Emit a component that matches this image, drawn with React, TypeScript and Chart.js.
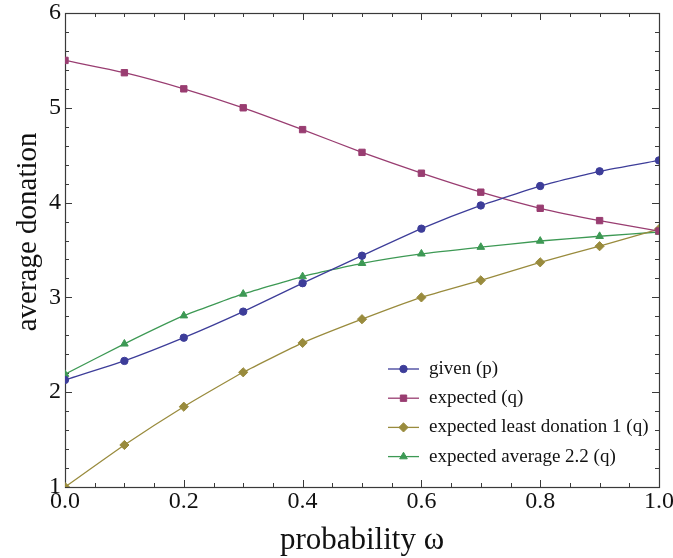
import React, { useEffect, useRef } from "react";
import { Chart, registerables } from "chart.js";
import { drawPoint } from "chart.js/helpers";

Chart.register(...registerables);

const omega = [0, 0.1, 0.2, 0.3, 0.4, 0.5, 0.6, 0.7, 0.8, 0.9, 1.0];
const givenP = [2.13, 2.33, 2.575, 2.85, 3.15, 3.44, 3.725, 3.97, 4.175, 4.33, 4.445];
const expectedQ = [5.5, 5.37, 5.2, 5.0, 4.77, 4.53, 4.31, 4.11, 3.94, 3.81, 3.7];
const leastDonation1 = [1.0, 1.443, 1.847, 2.21, 2.52, 2.77, 3.0, 3.18, 3.37, 3.54, 3.72];
const average22 = [2.19, 2.51, 2.807, 3.036, 3.22, 3.36, 3.46, 3.53, 3.595, 3.645, 3.69];

const seriesLabels = [
  "given (p)",
  "expected (q)",
  "expected least donation 1 (q)",
  "expected average 2.2 (q)",
];
const xTicks = [0, 0.2, 0.4, 0.6, 0.8, 1.0];
const yTicks = [1, 2, 3, 4, 5, 6];

const COLORS = ["#3d3d99", "#993d71", "#998b3d", "#3d9954"];
const STYLES = ["circle", "rect", "rectRot", "triangle"];
const RADII = [3.7, 4.5, 4.6, 4.4];
const FONT = "'Liberation Serif', 'DejaVu Serif', serif";

const framePlugin = {
  id: "framePlugin",
  beforeDatasetsDraw(chart: any) {
    const { ctx, chartArea } = chart;
    const { left, right, top, bottom } = chartArea;
    const xs = chart.scales.x;
    const ys = chart.scales.y;
    ctx.save();
    ctx.strokeStyle = "#3a3a3a";
    ctx.lineWidth = 1;
    ctx.beginPath();
    for (let i = 0; i <= 20; i++) {
      const v = i * 0.05;
      const px = Math.round(xs.getPixelForValue(v)) + 0.5;
      const len = i % 4 === 0 ? 7 : 4;
      ctx.moveTo(px, bottom);
      ctx.lineTo(px, bottom - len);
      ctx.moveTo(px, top);
      ctx.lineTo(px, top + len);
    }
    for (let i = 0; i <= 25; i++) {
      const v = 1 + i * 0.2;
      const py = Math.round(ys.getPixelForValue(v)) + 0.5;
      const len = i % 5 === 0 ? 7 : 4;
      ctx.moveTo(left, py);
      ctx.lineTo(left + len, py);
      ctx.moveTo(right, py);
      ctx.lineTo(right - len, py);
    }
    ctx.stroke();
    ctx.lineWidth = 1.2;
    ctx.strokeRect(Math.round(left) + 0.5, Math.round(top) + 0.5, Math.round(right - left), Math.round(bottom - top));
    ctx.restore();
  },
  afterDraw(chart: any) {
    const { ctx } = chart;
    const x0 = 388;
    const x1 = 419;
    const tx = 429;
    const y0 = 369;
    const dy = 29.2;
    ctx.save();
    chart.data.datasets.forEach((ds: any, i: number) => {
      const y = y0 + i * dy;
      ctx.strokeStyle = ds.borderColor;
      ctx.lineWidth = ds.borderWidth;
      ctx.beginPath();
      ctx.moveTo(x0, y);
      ctx.lineTo(x1, y);
      ctx.stroke();
      ctx.fillStyle = ds.pointBackgroundColor;
      ctx.strokeStyle = ds.pointBorderColor;
      ctx.lineWidth = 1;
      drawPoint(ctx, { pointStyle: ds.pointStyle, radius: ds.pointRadius, rotation: 0, borderWidth: 1 }, (x0 + x1) / 2, y);
      ctx.fillStyle = "#111";
      ctx.font = `19px ${FONT}`;
      ctx.textBaseline = "middle";
      ctx.textAlign = "left";
      ctx.fillText(ds.label, tx, y);
    });
    ctx.restore();
  },
};

export default function App() {
  const ref = useRef<HTMLCanvasElement | null>(null);
  useEffect(() => {
    document.body.style.margin = "0";
    const canvas = ref.current;
    if (!canvas) return;
    const series = [givenP, expectedQ, leastDonation1, average22];
    const chart = new Chart(canvas, {
      type: "line",
      data: {
        datasets: series.map((vals, i) => ({
          label: seriesLabels[i],
          data: omega.map((x, j) => ({ x, y: vals[j] })),
          borderColor: COLORS[i],
          backgroundColor: COLORS[i],
          pointBackgroundColor: COLORS[i],
          pointBorderColor: COLORS[i],
          pointStyle: STYLES[i],
          pointRadius: RADII[i],
          pointBorderWidth: 1,
          borderWidth: 1.3,
          tension: 0.15,
          fill: false,
        })),
      },
      options: {
        animation: false,
        responsive: false,
        maintainAspectRatio: false,
        layout: { padding: { top: 13, right: 14, left: 0, bottom: 0 } },
        plugins: {
          legend: { display: false },
          tooltip: { enabled: false },
        },
        scales: {
          x: {
            type: "linear",
            min: 0,
            max: 1,
            grid: { display: false, drawTicks: false },
            border: { display: false },
            afterBuildTicks: (s: any) => {
              s.ticks = xTicks.map((v) => ({ value: v }));
            },
            afterFit: (s: any) => {
              s.height = 71;
              s.paddingLeft = 0;
              s.paddingRight = 0;
            },
            ticks: {
              autoSkip: false,
              maxRotation: 0,
              padding: 3,
              color: "#111",
              font: { family: FONT, size: 24, lineHeight: 1 },
              callback: (v: any) => Number(v).toFixed(1),
            },
            title: {
              display: true,
              text: "probability ω",
              color: "#111",
              font: { family: FONT, size: 31, lineHeight: 1 },
              padding: { top: 0, bottom: 2 },
            },
          },
          y: {
            type: "linear",
            min: 1,
            max: 6,
            grid: { display: false, drawTicks: false },
            border: { display: false },
            afterBuildTicks: (s: any) => {
              s.ticks = yTicks.map((v) => ({ value: v }));
            },
            afterFit: (s: any) => {
              s.width = 65;
              s.paddingTop = 0;
              s.paddingBottom = 0;
            },
            ticks: {
              autoSkip: false,
              padding: 4,
              color: "#111",
              font: { family: FONT, size: 24, lineHeight: 1 },
              callback: (v: any) => String(v),
            },
            title: {
              display: true,
              text: "     average donation",
              color: "#111",
              font: { family: FONT, size: 29, lineHeight: 1 },
              padding: { top: 14, bottom: 0 },
            },
          },
        },
      },
      plugins: [framePlugin],
    });
    return () => chart.destroy();
  }, []);
  return (
    <div style={{ position: "fixed", left: 0, top: 0, width: 673, height: 558, background: "#fff" }}>
      <canvas ref={ref} width={673} height={558} style={{ width: 673, height: 558 }} />
    </div>
  );
}
